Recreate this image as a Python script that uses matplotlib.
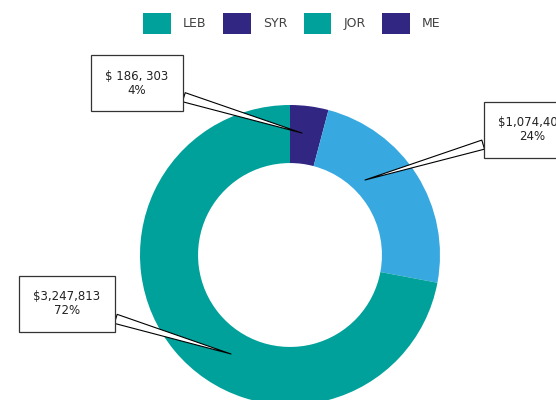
import matplotlib.pyplot as plt
from matplotlib.patches import Patch

# data
values = [186303, 1074407, 3247813]
labels = ["$ 186, 303\n4%", "$1,074,407\n24%", "$3,247,813\n72%"]
colors = ["#312783", "#37A8E0", "#00A19A"]
legend_names = ["LEB", "SYR", "JOR", "ME"]
legend_colors = ["#00A19A", "#312783", "#00A19A", "#312783"]

# callout tips (data coords) and box centres (figure pixels)
tips = [(0.08, 0.813), (0.5, 0.5), (-0.393, -0.66)]
boxes = [(137, 317), (532, 270), (67, 96)]

plt.rcParams['font.family'] = ['DejaVu Sans']

fig = plt.figure(figsize=(5.56, 4.0), dpi=100)
ax = fig.add_axes([140 / 556, -5 / 400, 300 / 556, 300 / 400])

ax.pie(values, colors=colors, startangle=90, counterclock=False,
       radius=1, wedgeprops=dict(width=0.387, linewidth=0))
ax.set_xlim(-1, 1)
ax.set_ylim(-1, 1)
ax.set_aspect('equal')
ax.axis('off')

for lab, tip, box in zip(labels, tips, boxes):
    ax.annotate(lab, xy=tip, xycoords='data', xytext=box,
                textcoords='figure pixels', ha='center', va='center',
                fontsize=8.5, color='#222222', linespacing=1.1,
                bbox=dict(boxstyle='square,pad=1.25', fc='white', ec='#333333', lw=0.9),
                arrowprops=dict(arrowstyle='wedge,tail_width=0.8', fc='white',
                                ec='black', lw=0.8, shrinkA=0, shrinkB=0),
                annotation_clip=False)

handles = [Patch(facecolor=c, edgecolor='none') for c in legend_colors]
fig.legend(handles, legend_names, loc='center', bbox_to_anchor=(292 / 556, 376.5 / 400),
           ncol=4, frameon=False, fontsize=9, labelcolor='#404040',
           handlelength=2.2, handleheight=2.2, handletextpad=1.0, columnspacing=1.3)

fig.savefig('out.png', dpi=100)
